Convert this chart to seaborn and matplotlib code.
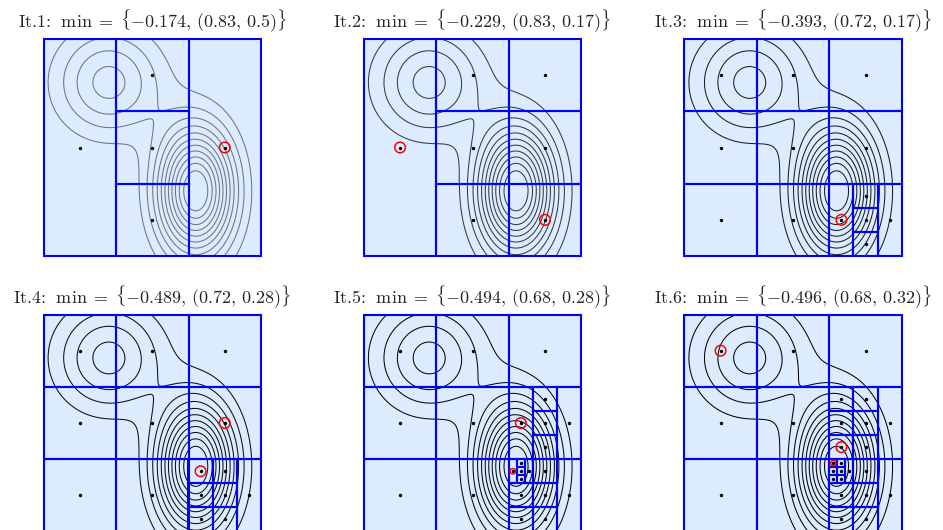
import numpy as np
import matplotlib
matplotlib.use("Agg")
import matplotlib.pyplot as plt
from matplotlib.patches import Rectangle
import seaborn as sns

# test function: two gaussian basins
valley_center = (0.70, 0.30)
valley_depth = 0.5
valley_sigma = (0.12, 0.20)
bump_center = (0.30, 0.80)
bump_depth = 0.186
bump_sigma = 0.172
contour_levels = [-0.45, -0.41, -0.37, -0.33, -0.29, -0.25, -0.21, -0.17, -0.13, -0.09, -0.05]

# rectangles picked (red circles) in each iteration, by their centre
selected = [
    [(0.833, 0.5)],
    [(0.167, 0.5), (0.833, 0.167)],
    [(0.722, 0.167)],
    [(0.833, 0.5), (0.722, 0.278)],
    [(0.722, 0.5), (0.685, 0.278)],
    [(0.167, 0.833), (0.722, 0.389), (0.685, 0.315)],
]

# best value found after each iteration
min_vals = ["-0.174", "-0.229", "-0.393", "-0.489", "-0.494", "-0.496"]
min_pts = ["(0.83,\\, 0.5)", "(0.83,\\, 0.17)", "(0.72,\\, 0.17)",
           "(0.72,\\, 0.28)", "(0.68,\\, 0.28)", "(0.68,\\, 0.32)"]


def f(x, y):
    dx = x - valley_center[0]
    dy = y - valley_center[1]
    g1 = np.exp(-(dx**2 / (2 * valley_sigma[0]**2) + dy**2 / (2 * valley_sigma[1]**2)))
    r2 = (x - bump_center[0])**2 + (y - bump_center[1])**2
    g2 = np.exp(-r2 / (2 * bump_sigma**2))
    return -valley_depth * g1 - bump_depth * g2


def divide(rect):
    # DIRECT trisection of one rectangle (centre c, half sides h)
    c, h = rect
    longest = max(h)
    dims = [i for i in range(2) if abs(h[i] - longest) < 1e-12]
    delta = 2 * longest / 3
    w = {}
    for i in dims:
        e = np.zeros(2)
        e[i] = delta
        w[i] = min(f(*(np.array(c) + e)), f(*(np.array(c) - e)))
    dims.sort(key=lambda i: w[i])
    out = []
    cur_c, cur_h = np.array(c, float), np.array(h, float)
    for i in dims:
        new_h = cur_h.copy()
        new_h[i] = cur_h[i] / 3
        e = np.zeros(2)
        e[i] = delta
        out.append((tuple(cur_c - e), tuple(new_h)))
        out.append((tuple(cur_c + e), tuple(new_h)))
        cur_h = new_h
    out.append((tuple(cur_c), tuple(cur_h)))
    return out


def nearest(rects, p):
    d = [np.hypot(r[0][0] - p[0], r[0][1] - p[1]) for r in rects]
    return int(np.argmin(d))


# build the partition for each iteration
parts = []
rects = divide(((0.5, 0.5), (0.5, 0.5)))
for k in range(6):
    parts.append(list(rects))
    if k < 5:
        idx = sorted({nearest(rects, p) for p in selected[k]}, reverse=True)
        for j in idx:
            r = rects.pop(j)
            rects.extend(divide(r))

sns.set_style("white")
plt.rcParams["mathtext.fontset"] = "cm"
plt.rcParams["axes.unicode_minus"] = False

fig = plt.figure(figsize=(9.43, 5.30), dpi=100)
W, H = 943, 530
col_left = [43.5, 363.8, 684.3]
row_top = [39.0, 314.5]
box_w, box_h = 217.5, 217.0

xs = np.linspace(0, 1, 400)
X, Y = np.meshgrid(xs, xs)
Z = f(X, Y)

for k in range(6):
    r, cidx = divmod(k, 3)
    ax = fig.add_axes([col_left[cidx] / W, 1 - (row_top[r] + box_h) / H, box_w / W, box_h / H])
    ax.set_xlim(0, 1)
    ax.set_ylim(0, 1)
    ax.axis("off")

    for (c, h) in parts[k]:
        ax.add_patch(Rectangle((c[0] - h[0], c[1] - h[1]), 2 * h[0], 2 * h[1],
                               facecolor="#dcecfe", edgecolor="none", zorder=0))
    ax.contour(X, Y, Z, levels=contour_levels, colors="k", linewidths=0.75,
               linestyles="solid", alpha=1 - 0.5 ** (k + 1), zorder=1)
    for (c, h) in parts[k]:
        ax.add_patch(Rectangle((c[0] - h[0], c[1] - h[1]), 2 * h[0], 2 * h[1],
                               facecolor="none", edgecolor="#0000ff", linewidth=1.5,
                               zorder=2, clip_on=False))

    cx = [c[0] for c, h in parts[k]]
    cy = [c[1] for c, h in parts[k]]
    sns.scatterplot(x=cx, y=cy, ax=ax, color="k", s=6, linewidth=0, zorder=3, legend=False)

    for p in selected[k]:
        c, h = parts[k][nearest(parts[k], p)]
        side_px = 2 * min(h) * box_w
        rad = min(5.3, side_px / 3)
        size = (2 * rad * 72 / 100) ** 2
        sns.scatterplot(x=[c[0]], y=[c[1]], ax=ax, s=size, marker="o", facecolor="none",
                        edgecolor="red", linewidth=1.1, zorder=4, legend=False)

    ax.set_title(r"It.%d: $\;\min\;=\;\{%s,\, %s\}$" % (k + 1, min_vals[k], min_pts[k]),
                 fontsize=13, fontfamily="cmr10", pad=8.5)

fig.savefig("out.png", dpi=100)
